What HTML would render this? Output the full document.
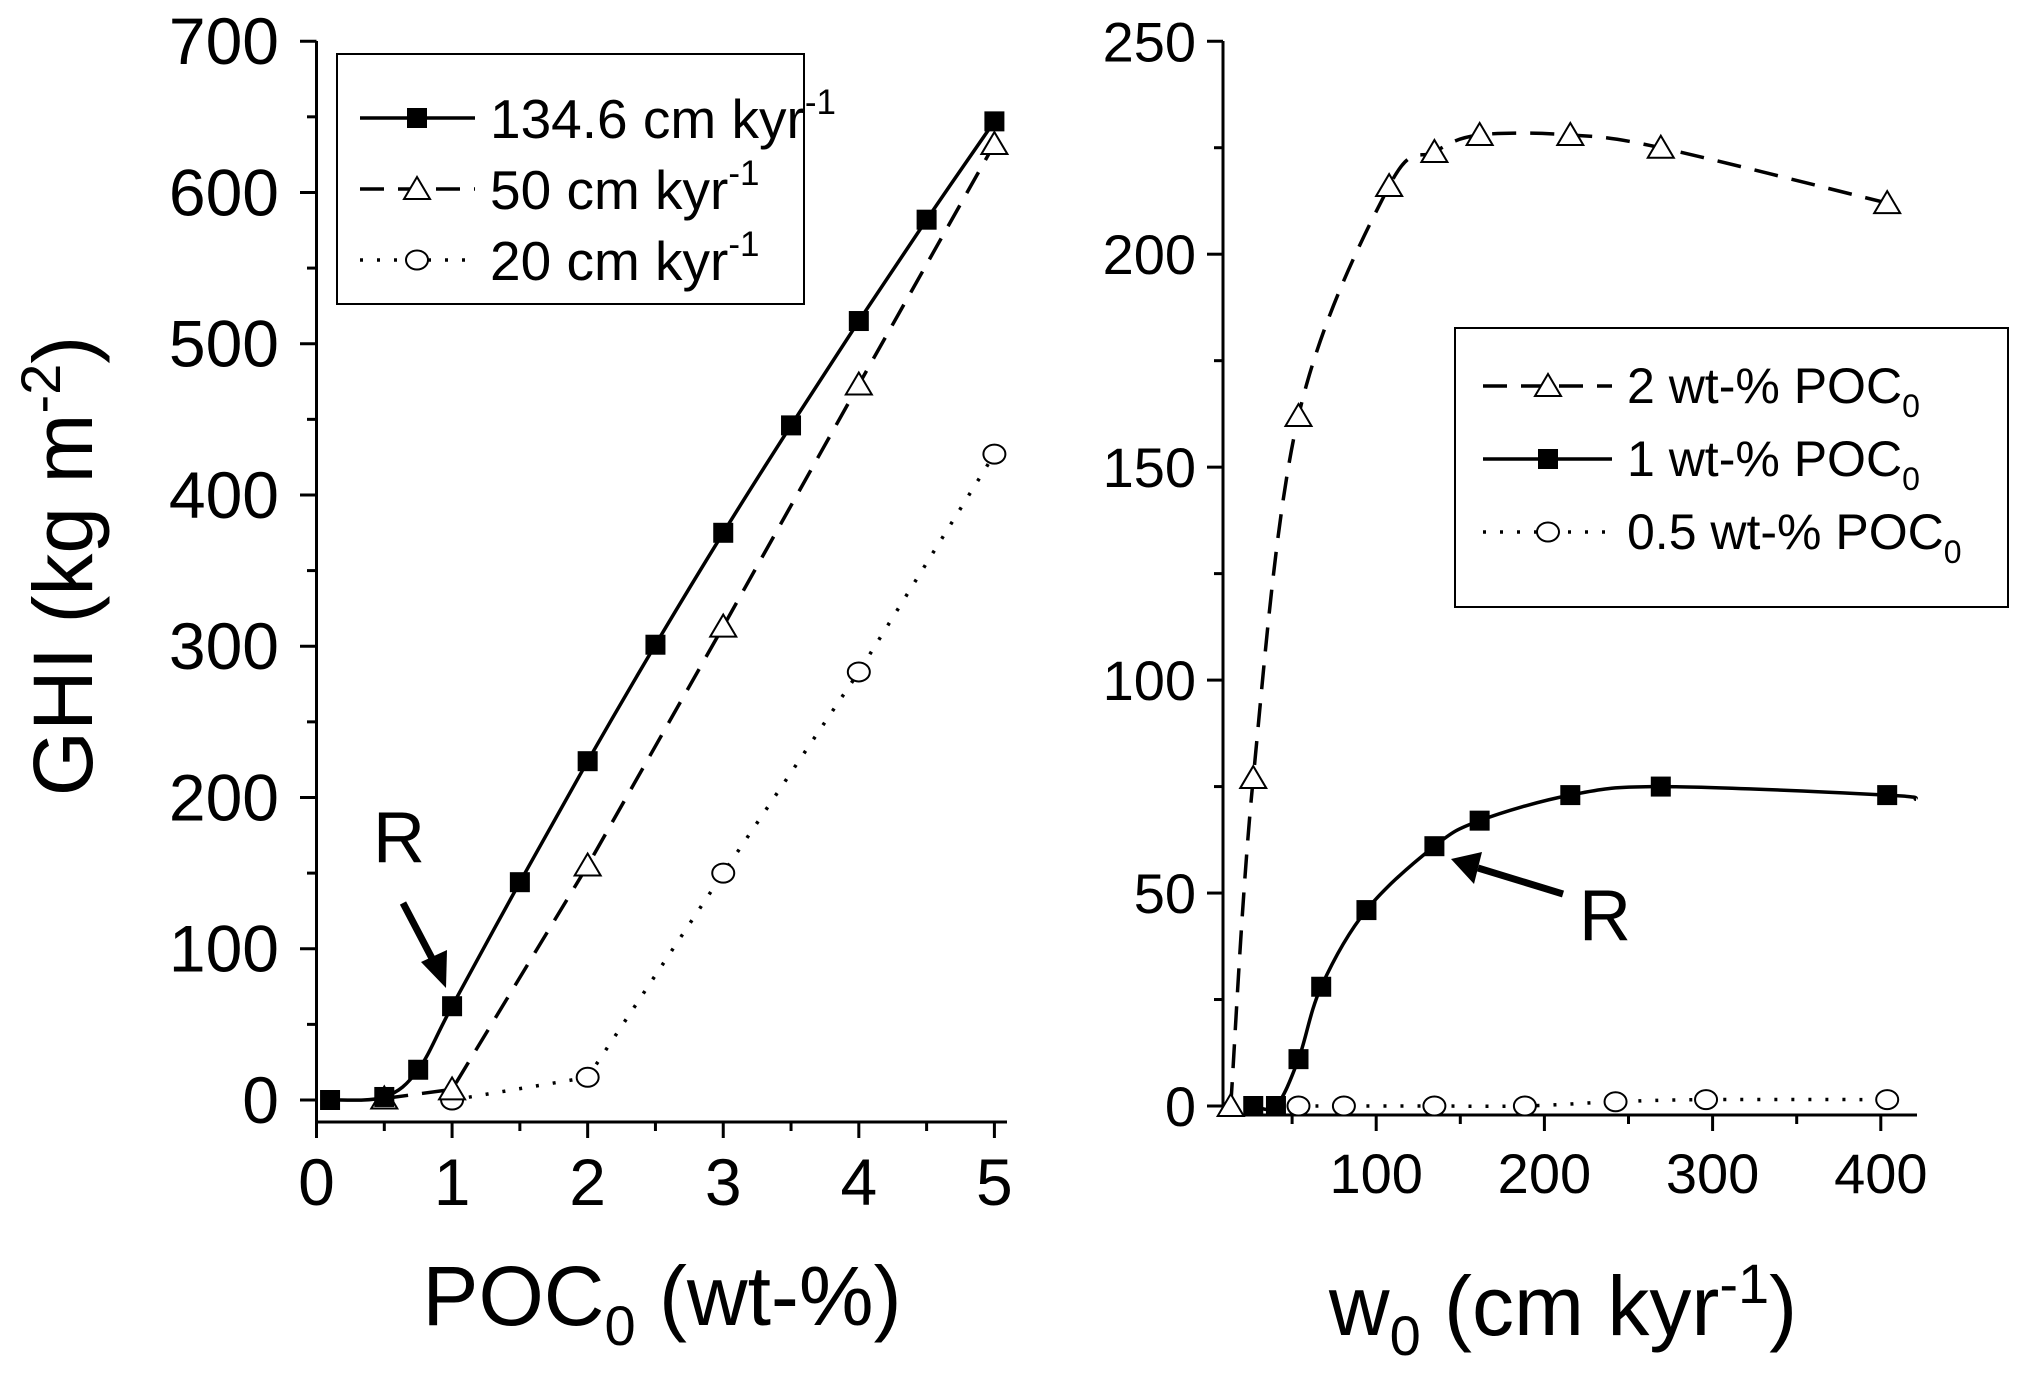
<!DOCTYPE html>
<html><head><meta charset="utf-8"><style>
html,body{margin:0;padding:0;background:#fff;}
svg{display:block;font-family:"Liberation Sans",Arial,sans-serif;}
</style></head><body>
<svg id="fig" width="2017" height="1395" viewBox="0 0 2017 1395" xmlns="http://www.w3.org/2000/svg"></svg>
<script>
// Left panel data
const leftXTicks=[0,1,2,3,4,5];
const leftYTicks=[0,100,200,300,400,500,600,700];
const sqX=[0.1,0.5,0.75,1,1.5,2,2.5,3,3.5,4,4.5,5];
const sqY=[0,2,20,62,144,224,301,375,446,515,582,647];
const triX=[0.5,1,2,3,4,5];
const triY=[1,7,155,313,473,632];
const cirX=[1,2,3,4,5];
const cirY=[0,15,150,283,427];
// Right panel data
const rightXTicks=[100,200,300,400];
const rightYTicks=[0,50,100,150,200,250];
const r2X=[13.5,26.9,53.8,107.7,134.6,161.5,215.4,269.2,403.8];
const r2Y=[0,77,162,216,224,228,228,225,212];
const r1X=[26.9,40.4,53.8,67.3,94.2,134.6,161.5,215.4,269.2,403.8];
const r1Y=[0,0,11,28,46,61,67,73,75,73];
const r05X=[53.8,80.8,134.6,188.4,242.3,296.1,403.8];
const r05Y=[0,0,0,0,1,1.5,1.5];

const svg=document.getElementById('fig');
const NS='http://www.w3.org/2000/svg';
function el(tag,attrs,parent){const e=document.createElementNS(NS,tag);for(const k in attrs)e.setAttribute(k,attrs[k]);(parent||svg).appendChild(e);return e;}

const lx=v=>316.5+(994.4-316.5)*v/5;
const ly=v=>1100-(1100-41.2)*v/700;
const rx=v=>1208+1.682*v;
const ry=v=>1106-4.259*v;

function smooth(pts){
  let d='M'+pts[0][0]+','+pts[0][1];
  for(let i=0;i<pts.length-1;i++){
    const p0=pts[i-1]||pts[i],p1=pts[i],p2=pts[i+1],p3=pts[i+2]||p2;
    const t=0.5/3;
    const c1=[p1[0]+(p2[0]-p0[0])*t,p1[1]+(p2[1]-p0[1])*t];
    const c2=[p2[0]-(p3[0]-p1[0])*t,p2[1]-(p3[1]-p1[1])*t];
    d+=' C'+c1[0]+','+c1[1]+' '+c2[0]+','+c2[1]+' '+p2[0]+','+p2[1];
  }
  return d;
}
function linear(pts){return 'M'+pts.map(p=>p[0]+','+p[1]).join(' L');}
function series(xs,ys,fx,fy,dash,marker,name,ext,lin){
  const g=el('g',{});
  
  
  const pts=xs.map((x,i)=>[fx(x),fy(ys[i])]);
  if(ext)pts.push([fx(ext[0]),fy(ext[1])]);
  const p=el('path',{d:lin?linear(pts):smooth(pts),fill:'none',stroke:'#000','stroke-width':3.5,'stroke-dasharray':dash},g);
  
  
  xs.forEach((x,i)=>{const m=drawMarker(marker,fx(x),fy(ys[i]),g);
    
    });
}
function drawMarker(type,x,y,g){
  if(type==='sq')return el('rect',{x:x-10,y:y-10,width:20,height:20,fill:'#000'},g);
  if(type==='tri')return el('polygon',{points:`${x},${y-12} ${x-13},${y+10} ${x+13},${y+10}`,fill:'#fff',stroke:'#000','stroke-width':2},g);
  return el('ellipse',{cx:x,cy:y,rx:11,ry:9.5,fill:'#fff',stroke:'#000','stroke-width':2},g);
}
function text(x,y,s,size,anchor,name,g){const t=el('text',{x:x,y:y,'font-size':size,'text-anchor':anchor||'middle'},g);t.textContent=s;return t;}

// LEFT AXES
const LA=el('g',{});
el('line',{x1:316.5,y1:41,x2:316.5,y2:1122,stroke:'#000','stroke-width':3},LA);
el('line',{x1:315,y1:1122,x2:1007,y2:1122,stroke:'#000','stroke-width':3},LA);
leftYTicks.forEach(v=>{el('line',{x1:300,y1:ly(v),x2:316.5,y2:ly(v),stroke:'#000','stroke-width':3},LA);
 if(v<700)el('line',{x1:307,y1:ly(v+50),x2:316.5,y2:ly(v+50),stroke:'#000','stroke-width':3},LA);
 text(279,ly(v)+23,String(v),66,'end','y-tick-label',LA);});
leftXTicks.forEach(v=>{el('line',{x1:lx(v),y1:1122,x2:lx(v),y2:1138,stroke:'#000','stroke-width':3},LA);
 if(v<5)el('line',{x1:lx(v+0.5),y1:1122,x2:lx(v+0.5),y2:1131,stroke:'#000','stroke-width':3},LA);
 text(lx(v),1205,String(v),66,'middle','x-tick-label',LA);});
const lxt=text(662,1325,'',84,'middle','x-axis-title-left',LA);lxt.innerHTML='POC<tspan font-size="56" dy="20">0</tspan><tspan dy="-20"> (wt-%)</tspan>';
const lyt=text(0,0,'',84,'middle','y-axis-title',LA);lyt.setAttribute('transform','translate(92,566) rotate(-90)');lyt.innerHTML='GHI (kg m<tspan font-size="56" dy="-32">-2</tspan><tspan dy="32">)</tspan>';

series(cirX,cirY,lx,ly,'3 14','cir','series-20-cm-kyr',null,true);
series(triX,triY,lx,ly,'24 14','tri','series-50-cm-kyr',null,true);
series(sqX,sqY,lx,ly,'','sq','series-134-6-cm-kyr');

const LL=el('g',{});
el('rect',{x:337,y:54,width:467,height:250,fill:'#fff',stroke:'#000','stroke-width':2},LL);
[['','sq','134.6 cm kyr'],['24 14','tri','50 cm kyr'],['3 14','cir','20 cm kyr']].forEach((e,i)=>{
 const y=118+i*71;
 el('line',{x1:360,y1:y,x2:475,y2:y,stroke:'#000','stroke-width':3.5,'stroke-dasharray':e[0]},LL);
 drawMarker(e[1],417,y,LL);
 const t=text(490,y+20,'',55,'start','legend-entry',LL);t.innerHTML=e[2]+'<tspan font-size="35" dy="-24">-1</tspan>';
});
text(399,862,'R',72,'middle','annotation-r-left');
el('line',{x1:403,y1:903,x2:436,y2:966,stroke:'#000','stroke-width':7});
el('polygon',{points:'446,988 421,962 447,950',fill:'#000'});

// RIGHT AXES
const RA=el('g',{});
el('line',{x1:1223,y1:41,x2:1223,y2:1115,stroke:'#000','stroke-width':3},RA);
el('line',{x1:1222,y1:1115,x2:1917,y2:1115,stroke:'#000','stroke-width':3},RA);
rightYTicks.forEach(v=>{el('line',{x1:1207,y1:ry(v),x2:1223,y2:ry(v),stroke:'#000','stroke-width':3},RA);
 if(v<250)el('line',{x1:1214,y1:ry(v+25),x2:1223,y2:ry(v+25),stroke:'#000','stroke-width':3},RA);
 text(1196,ry(v)+20,String(v),56,'end','y-tick-label-right',RA);});
[50,100,150,200,250,300,350,400].forEach(v=>{const major=v%100===0;
 el('line',{x1:rx(v),y1:1115,x2:rx(v),y2:major?1131:1124,stroke:'#000','stroke-width':3},RA);
 if(major)text(rx(v),1193,String(v),56,'middle','x-tick-label-right',RA);});
const rxt=text(1563,1335,'',84,'middle','x-axis-title-right',RA);rxt.innerHTML='w<tspan font-size="56" dy="20">0</tspan><tspan dy="-20"> (cm kyr</tspan><tspan font-size="56" dy="-32">-1</tspan><tspan dy="32">)</tspan>';

series(r05X,r05Y,rx,ry,'3 14','cir','series-0-5-wt');
series(r2X,r2Y,rx,ry,'24 14','tri','series-2-wt');
series(r1X,r1Y,rx,ry,'','sq','series-1-wt',[421,72]);

const RL=el('g',{});
el('rect',{x:1455,y:328,width:553,height:279,fill:'#fff',stroke:'#000','stroke-width':2},RL);
[['24 14','tri','2 wt-% POC'],['','sq','1 wt-% POC'],['3 14','cir','0.5 wt-% POC']].forEach((e,i)=>{
 const y=386+i*73;
 el('line',{x1:1483,y1:y,x2:1612,y2:y,stroke:'#000','stroke-width':3.5,'stroke-dasharray':e[0]},RL);
 drawMarker(e[1],1548,y,RL);
 const t=text(1627,y+17,'',50,'start','legend-entry-right',RL);t.innerHTML=e[2]+'<tspan font-size="32" dy="14">0</tspan>';
});
text(1605,940,'R',72,'middle','annotation-r-right');
el('line',{x1:1563,y1:894,x2:1478,y2:868,stroke:'#000','stroke-width':7});
el('polygon',{points:'1451,859 1482,852 1474,884',fill:'#000'});
</script>
</body></html>
